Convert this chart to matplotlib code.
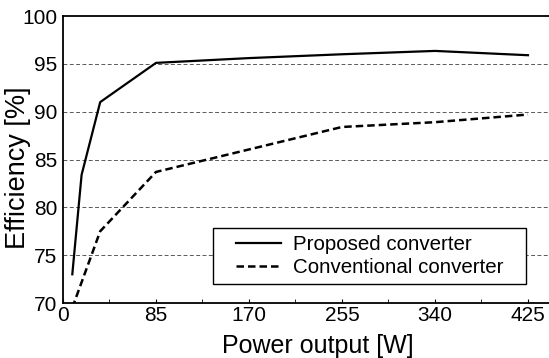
import numpy as np
import matplotlib
matplotlib.use("Agg")
import matplotlib.pyplot as plt
from matplotlib.patches import Rectangle

# data
power_proposed = [8.5, 17, 34, 85, 170, 255, 340, 425]
eff_proposed = [73.0, 83.4, 91.0, 95.1, 95.6, 96.0, 96.35, 95.9]
power_conv = [8.5, 34, 85, 170, 255, 340, 425]
eff_conv = [69.5, 77.5, 83.7, 86.05, 88.4, 88.9, 89.7]
xticks = [0, 85, 170, 255, 340, 425]
yticks = [70, 75, 80, 85, 90, 95, 100]

plt.rcParams['font.family'] = ['Liberation Sans', 'DejaVu Sans']

fig = plt.figure(figsize=(5.49, 3.58), dpi=100)
ax = fig.add_axes([63/549, 55/358, 1 - 63/549, 287/358])

for y in yticks[1:-1]:
    ax.axhline(y, color="0.35", lw=0.7, ls=(0, (4, 2.5)), zorder=1)

ax.plot(power_proposed, eff_proposed, color="black", lw=1.6, label="Proposed converter", zorder=3)
ax.plot(power_conv, eff_conv, color="black", lw=1.8, ls=(0, (3, 1.6)), label="Conventional converter", zorder=3)

ax.set_xlim(0, 444.2)
ax.set_ylim(70, 100)
ax.set_xticks(xticks)
ax.set_xticks(np.arange(0, 444, 42.5), minor=True)
ax.set_yticks(yticks)
ax.tick_params(axis="both", which="both", direction="in", labelsize=15, pad=2)
ax.tick_params(axis="both", which="major", length=3)
ax.tick_params(axis="x", which="minor", length=3)
ax.tick_params(axis="y", length=0, pad=4)
ax.spines["right"].set_visible(False)
for s in ["left", "bottom", "top"]:
    ax.spines[s].set_linewidth(1.3)

ax.set_xlabel("Power output [W]", fontsize=18)
ax.set_ylabel("Efficiency [%]", fontsize=19.5)
ax.xaxis.set_label_coords(0.525, -0.108)
ax.yaxis.set_label_coords(-0.066, 0.47)

# legend box drawn as its own frame
ax.add_patch(Rectangle(((213-63)/486, (303-284)/287), (526-213)/486, (284-228)/287,
                       transform=ax.transAxes, fill=True, facecolor="white",
                       edgecolor="black", lw=1.0, zorder=4))
leg = ax.legend(loc="center", bbox_to_anchor=((369.5-63)/486, (303-256)/287),
                fontsize=14.8, frameon=False, handlelength=2.2,
                borderpad=0, labelspacing=0.2, handletextpad=0.55)
leg.set_zorder(5)

fig.savefig("out.png", dpi=100)
